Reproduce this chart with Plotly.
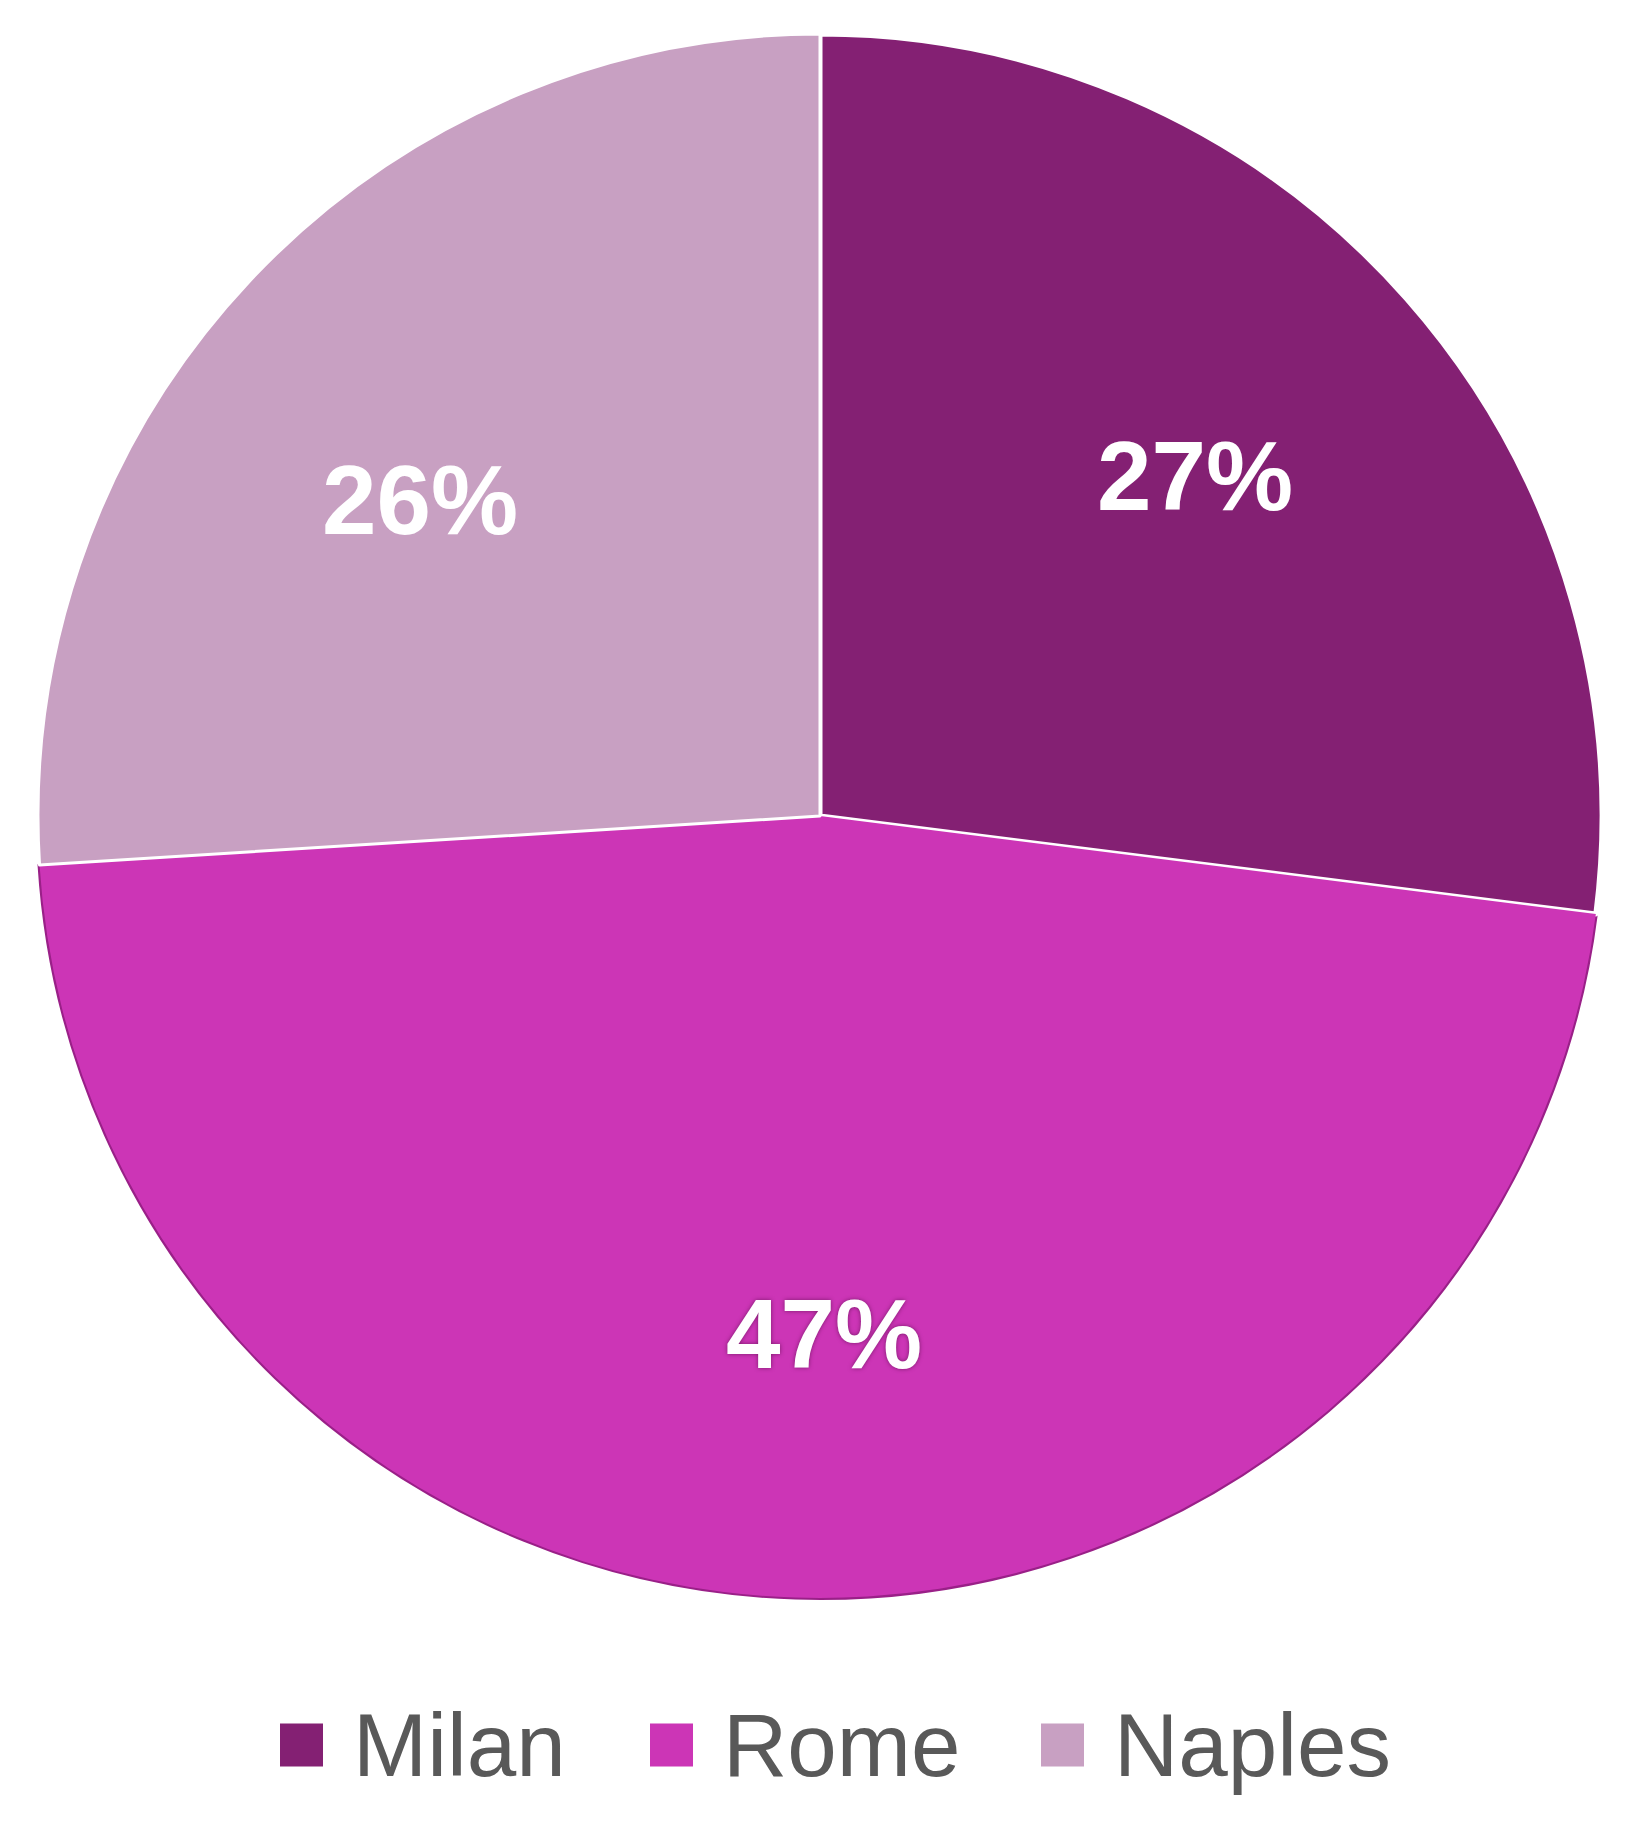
import math
import plotly.graph_objects as go

categories = ["Milan", "Rome", "Naples"]
values = [27, 47, 26]
colors = ["#842073", "#CC35B6", "#C8A0C2"]

W, H = 1636, 1828

# pie geometry (pixels)
CX, CY, R = 812, 808, 782
dom_x = [(CX - R) / W, (CX + R) / W]
dom_y = [1 - (CY + R) / H, 1 - (CY - R) / H]

edge_colors = ["rgba(0,0,0,0)", "#9A2088", "rgba(0,0,0,0)"]
gap_widths = [5, 0, 3]

fig = go.Figure()
# underlay giving the Rome slice its darker outer rim
fig.add_trace(go.Pie(
    labels=categories, values=values, sort=False,
    direction="clockwise", rotation=0,
    marker=dict(colors=colors, line=dict(color=edge_colors, width=4)),
    textinfo="none", domain=dict(x=dom_x, y=dom_y),
    showlegend=False, hoverinfo="skip",
))
fig.add_trace(go.Pie(
    labels=categories,
    values=values,
    sort=False,
    direction="clockwise",
    rotation=0,
    marker=dict(colors=colors, line=dict(color="white", width=gap_widths)),
    textinfo="none",
    domain=dict(x=dom_x, y=dom_y),
    showlegend=False,
    hoverinfo="label+percent",
))

# percentage labels placed near each slice's bisector
label_r = [0.644, 0.668, 0.649]
label_dang = [-0.4, -2.2, -5.2]
shadows = ["none", "0px 0px 4px #7a1a6a", "none"]
total = sum(values)
cum = 0
for i, v in enumerate(values):
    mid = math.radians((cum + v / 2) / total * 360 + label_dang[i])
    cum += v
    px = CX + label_r[i] * R * math.sin(mid)
    py = CY - label_r[i] * R * math.cos(mid)
    fig.add_annotation(xref="paper", yref="paper",
                       x=px / W, y=1 - (py - 4) / H,
                       xanchor="center", yanchor="middle", showarrow=False,
                       text=f"{round(100 * v / total)}%",
                       font=dict(family="Liberation Sans, Arial, sans-serif", size=98,
                                 color="white", weight="bold", shadow=shadows[i]))

# Legend drawn from categories/colors
legend_y = 1 - 1737 / H
sq_x = [272, 642, 1033]
sq = 43
for i, (name, col) in enumerate(zip(categories, colors)):
    x0 = sq_x[i] / W
    fig.add_shape(type="rect", xref="paper", yref="paper",
                  x0=x0, x1=(sq_x[i] + sq) / W,
                  y0=legend_y - (sq / 2) / H, y1=legend_y + (sq / 2) / H,
                  fillcolor=col, line=dict(width=0))
    fig.add_annotation(xref="paper", yref="paper",
                       x=(sq_x[i] + sq + 28) / W, y=legend_y,
                       xanchor="left", yanchor="middle", showarrow=False,
                       text=name,
                       font=dict(family="Liberation Sans, Arial, sans-serif", size=89, color="#595959"))

fig.update_layout(
    width=W, height=H,
    margin=dict(l=0, r=0, t=0, b=0),
    paper_bgcolor="white",
    plot_bgcolor="white",
)

fig.write_html("out.html")
